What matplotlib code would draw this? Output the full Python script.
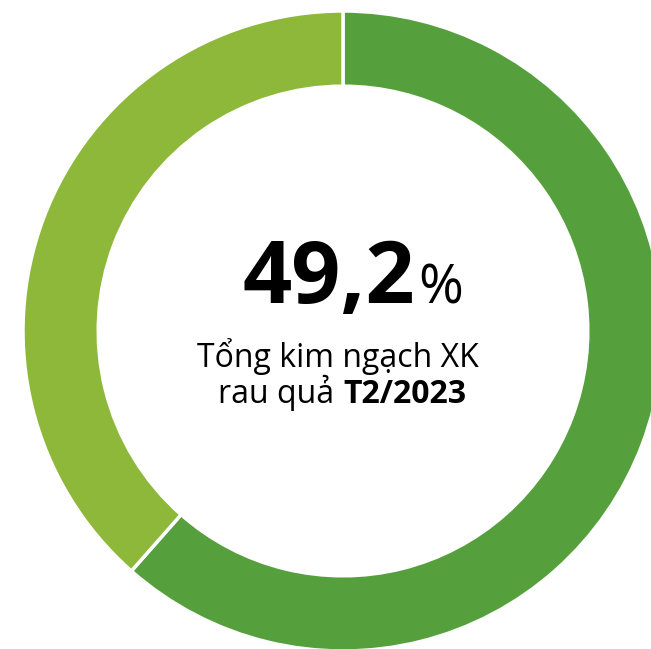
import numpy as np
import matplotlib.pyplot as plt

# Share of the two parts of the ring
labels = ["Phần còn lại", "Phần chính"]
shares = [61.5, 38.5]
colors = ["#55A03C", "#8DB83A"]

big_value = "49,2"
line1 = "Tổng kim ngạch XK"
line2_reg = "rau quả "
line2_bold = "T2/2023"

plt.rcParams['font.family'] = ['Open Sans', 'DejaVu Sans']

fig = plt.figure(figsize=(6.51, 6.49), dpi=100)
ax = fig.add_axes([0, 0, 1, 1])

ax.pie(shares, colors=colors, startangle=90, counterclock=False, radius=1,
       wedgeprops=dict(width=0.235, edgecolor="white", linewidth=2.5))

# pixel layout: centre at (343, 331), outer radius 320
ax.set_xlim(-343 / 320, (651 - 343) / 320)
ax.set_ylim(-(649 - 331) / 320, 331 / 320)
ax.set_aspect('auto')
ax.axis('off')

ax.text(0.225, 0.0875, big_value, ha='right', va='baseline',
        fontsize=62, fontweight='bold', color='black')
ax.text(0.235, 0.0875, "%", ha='left', va='baseline',
        fontsize=39, color='black')

ax.text(-0.015, -0.1125, line1, ha='center', va='baseline',
        fontsize=23, color='black')
ax.text(0.0, -0.225, line2_reg, ha='right', va='baseline',
        fontsize=23, color='black')
ax.text(0.0, -0.225, line2_bold, ha='left', va='baseline',
        fontsize=23, fontweight='bold', color='black')

fig.savefig("out.png", dpi=100)
